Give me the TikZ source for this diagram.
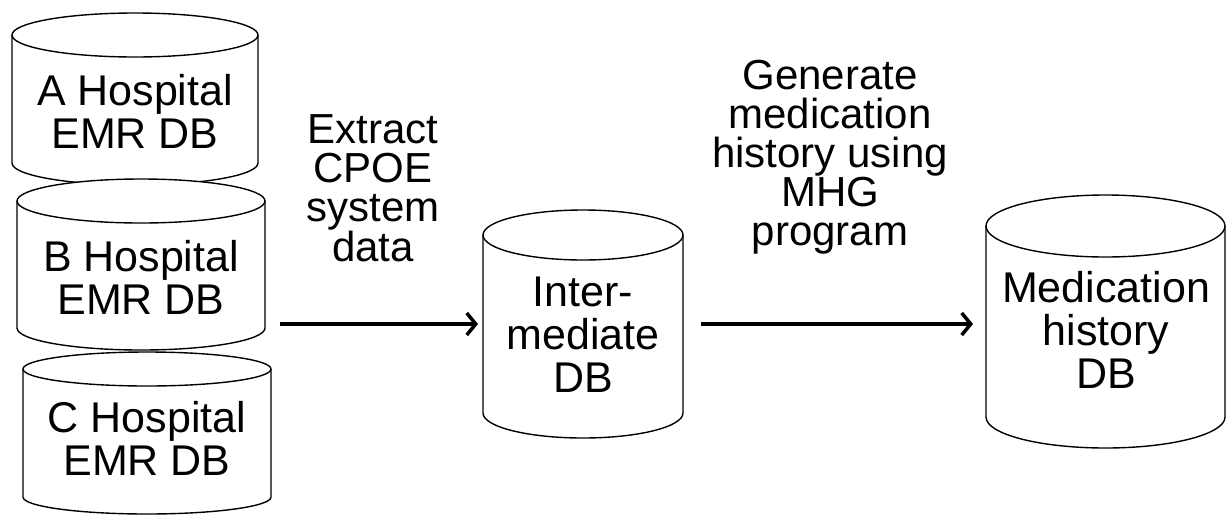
\documentclass[tikz,border=0pt]{standalone}
\usepackage{fontspec}
\setmainfont{Liberation Sans}
\usetikzlibrary{arrows.meta}
\tikzset{
  dbbox/.style={inner sep=0pt, outer sep=0pt},
  dbline/.style={draw=black, fill=white, line width=1.4pt},
  dbtext/.style={align=center, inner sep=0pt, font=\fontsize{43}{43}\selectfont},
  steptext/.style={align=center, inner sep=0pt, anchor=north, font=\fontsize{42}{39}\selectfont},
  flow/.style={-{Straight Barb[length=9pt,width=22pt]}, line width=3.5pt}
}
% #1 name, #2 centre, #3 width, #4 height, #5 y radius of the ends
\newcommand\dbcyl[5]{%
  \node[dbbox, minimum width=#3, minimum height=#4] (#1) at #2 {};
  \path[dbline] ([yshift=-#5]#1.north west) -- ([yshift=#5]#1.south west)
    arc[start angle=180, end angle=360, x radius=#3/2, y radius=#5]
    -- ([yshift=-#5]#1.north east)
    arc[start angle=0, end angle=180, x radius=#3/2, y radius=#5] -- cycle;
  \draw[line width=1.4pt] ([yshift=-#5]#1.north west)
    arc[start angle=180, end angle=360, x radius=#3/2, y radius=#5];
}
\begin{document}
\begin{tikzpicture}[x=1pt,y=-1pt]
  \useasboundingbox (0,0) rectangle (1226,515);
  % hospital DBs, stacked
  \dbcyl{hospA}{(135,99)}{246pt}{172pt}{22pt}
  \dbcyl{hospB}{(141,264.5)}{248pt}{171pt}{22pt}
  \dbcyl{hospC}{(147,433)}{248pt}{162pt}{17pt}
  \node[dbtext] (hospAtxt) at (135,111) {A Hospital\\EMR DB};
  \node[dbtext] (hospBtxt) at (141,277) {B Hospital\\EMR DB};
  \node[dbtext] (hospCtxt) at (147,438) {C Hospital\\EMR DB};
  % intermediate and result
  \dbcyl{inter}{(583,324)}{200pt}{228pt}{25pt}
  \node[dbtext] (intertxt) at (583,335) {Inter-\\mediate\\DB};
  \dbcyl{medhist}{(1105.5,321.5)}{239pt}{253pt}{31pt}
  \node[dbtext] (medhisttxt) at (1106,330) {Medication\\history\\DB};
  % steps
  \node[steptext] (extract) at (373,114) {Extract\\CPOE\\system\\data};
  \node[steptext] (generate) at (830,60) {Generate\\medication\\history using\\MHG\\program};
  \draw[flow, shorten <=15pt, shorten >=5pt] (hospB.east |- inter.west) -- (inter.west);
  \draw[flow, shorten <=18pt, shorten >=13pt] (inter.east) -- (inter.east -| medhist.west);
\end{tikzpicture}
\end{document}
